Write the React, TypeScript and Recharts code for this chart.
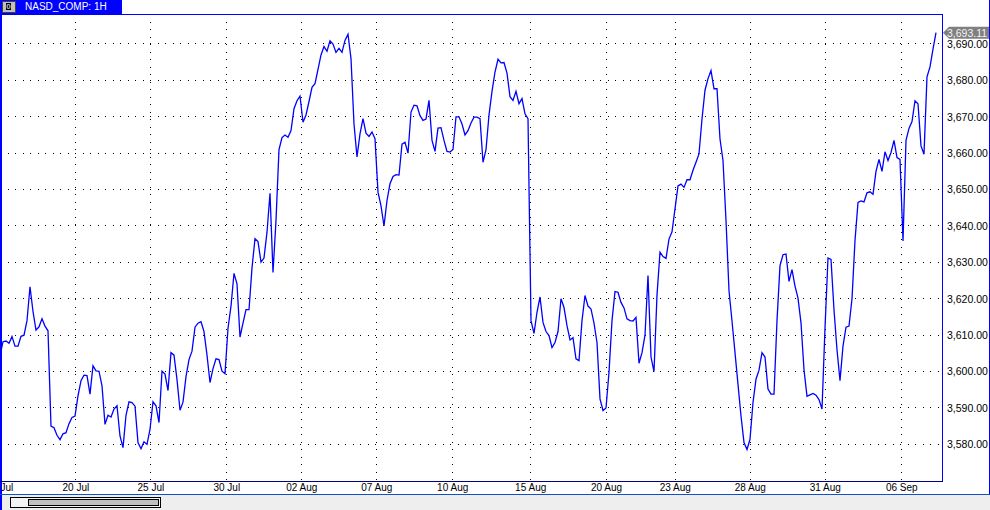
import React from 'react';
import { LineChart, Line, XAxis, YAxis, CartesianGrid, ReferenceLine } from 'recharts';

// hourly closes, one per bar
const closes = [
  3604.3, 3608.2, 3608.4, 3607.8, 3609.6, 3607.0, 3607.0, 3609.7, 3610.0, 3614.0,
  3623.3, 3616.5, 3611.4, 3612.3, 3614.5, 3612.5, 3611.2, 3585.0, 3584.6, 3582.5,
  3581.3, 3582.9, 3583.2, 3585.7, 3587.4, 3587.8, 3593.3, 3597.5, 3599.0, 3598.9,
  3593.8, 3601.6, 3600.2, 3600.1, 3596.1, 3585.5, 3588.0, 3587.5, 3589.7, 3590.6,
  3582.3, 3579.1, 3588.0, 3591.7, 3591.5, 3590.5, 3580.5, 3578.8, 3580.7, 3580.0,
  3584.1, 3591.7, 3590.6, 3586.0, 3600.1, 3599.3, 3594.8, 3605.2, 3604.5, 3597.8,
  3589.4, 3591.6, 3598.6, 3603.3, 3605.6, 3612.2, 3613.3, 3613.7, 3611.0, 3604.5,
  3597.0, 3600.8, 3603.5, 3603.3, 3600.1, 3599.4, 3611.9, 3618.0, 3627.0, 3624.1,
  3609.5, 3613.3, 3617.0, 3617.0, 3628.5, 3636.5, 3635.7, 3630.1, 3631.2, 3638.3,
  3649.0, 3627.2, 3641.5, 3661.0, 3664.3, 3665.0, 3664.4, 3666.2, 3672.2, 3674.4,
  3675.7, 3668.5, 3670.5, 3674.2, 3678.1, 3679.1, 3683.0, 3687.0, 3689.3, 3688.0,
  3690.9, 3690.0, 3687.7, 3688.8, 3687.7, 3691.0, 3692.7, 3686.0, 3668.0, 3659.0,
  3665.3, 3669.5, 3665.5, 3664.6, 3665.8, 3664.0, 3649.3, 3645.5, 3640.0, 3647.0,
  3651.6, 3653.6, 3654.1, 3654.0, 3662.5, 3663.0, 3660.0, 3671.3, 3673.2, 3673.0,
  3670.3, 3669.0, 3669.4, 3674.5, 3663.5, 3660.5, 3666.9, 3667.0, 3663.5, 3660.5,
  3660.3, 3661.0, 3670.0, 3670.0, 3668.0, 3665.0, 3666.2, 3668.3, 3669.9, 3669.9,
  3669.5, 3657.5, 3661.0, 3670.5, 3677.0, 3682.3, 3685.8, 3684.8, 3684.9, 3682.0,
  3675.5, 3674.5, 3677.0, 3673.6, 3675.0, 3670.8, 3669.5, 3614.0, 3610.5, 3616.3,
  3620.5, 3613.5, 3611.0, 3609.9, 3606.6, 3608.0, 3611.0, 3620.0, 3617.6, 3612.6,
  3608.7, 3609.3, 3603.5, 3603.0, 3614.0, 3620.9, 3618.0, 3617.2, 3613.3, 3608.0,
  3592.5, 3589.3, 3590.0, 3599.8, 3614.0, 3622.0, 3621.8, 3619.0, 3617.5, 3614.5,
  3614.0, 3613.9, 3614.9, 3602.3, 3605.2, 3610.0, 3626.4, 3604.0, 3600.0, 3621.0,
  3632.8, 3631.6, 3631.1, 3636.4, 3638.4, 3644.7, 3651.0, 3651.5, 3650.6, 3652.7,
  3652.7, 3655.3, 3657.5, 3659.8, 3669.4, 3677.3, 3680.5, 3682.7, 3677.7, 3677.7,
  3663.9, 3658.0, 3641.5, 3622.2, 3613.9, 3605.2, 3596.5, 3587.8, 3580.5, 3578.6,
  3581.4, 3591.5, 3597.9, 3600.4, 3605.2, 3604.0, 3595.2, 3593.8, 3593.8, 3614.0,
  3629.1, 3632.1, 3632.3, 3624.8, 3628.0, 3623.5, 3620.2, 3613.4, 3600.5, 3593.2,
  3593.6, 3594.0, 3593.5, 3592.3, 3589.7, 3612.0, 3631.2, 3630.8, 3617.0, 3606.0,
  3597.5, 3607.0, 3612.2, 3612.5, 3620.0, 3636.0, 3646.5, 3646.9, 3646.6, 3649.1,
  3649.4, 3648.7, 3655.0, 3658.3, 3655.0, 3660.4, 3658.0, 3660.2, 3663.5, 3658.8,
  3658.3, 3635.9, 3663.5, 3666.8, 3668.7, 3674.4, 3673.6, 3662.0, 3659.7, 3681.0,
  3683.7, 3688.6, 3693.11,
];

// session boundaries (bar positions) and their labels
const dateTicks = [0, 25.3, 50.3, 75.6, 100.6, 125.6, 150.9, 176.9, 202.2, 225.1, 250.1, 275.1, 300.6];
const dateLabels = ['17 Jul', '20 Jul', '25 Jul', '30 Jul', '02 Aug', '07 Aug', '10 Aug', '15 Aug', '20 Aug', '23 Aug', '28 Aug', '31 Aug', '06 Sep'];
const priceTicks = [3580, 3590, 3600, 3610, 3620, 3630, 3640, 3650, 3660, 3670, 3680, 3690];

const chartData = closes.map((close, i) => ({ bar: i, close }));
const lastClose = closes[closes.length - 1];

const FONT = '"Liberation Sans", Arial, sans-serif';
const BLUE = '#0000FF';

const fmtPrice = (v: number) =>
  v.toLocaleString('en-US', { minimumFractionDigits: 2, maximumFractionDigits: 2 });

const fmtDate = (v: number) => {
  const idx = dateTicks.indexOf(v);
  return idx >= 0 ? dateLabels[idx] : '';
};

// grey arrow tag with the last price, on the right axis
const LastPriceTag = (props: any) => {
  const { viewBox } = props;
  if (!viewBox) return null;
  const x = viewBox.x + viewBox.width + 1;
  const y = viewBox.y;
  const pts = `${x},${y} ${x + 6},${y - 6} ${x + 46},${y - 6} ${x + 46},${y + 6} ${x + 6},${y + 6}`;
  return (
    <g>
      <polygon points={pts} fill="#808080" />
      <text x={x + 4} y={y + 4} fill="#F4F4F4" fontSize={10.5} fontFamily={FONT}>
        {fmtPrice(lastClose)}
      </text>
    </g>
  );
};

const App: React.FC = () => {
  return (
    <div
      style={{
        position: 'absolute',
        left: 0,
        top: 0,
        width: 990,
        height: 510,
        background: '#FFFFFF',
        fontFamily: FONT,
        overflow: 'hidden',
      }}
    >
      <LineChart
        width={990}
        height={495}
        data={chartData}
        margin={{ top: 14, right: 0, bottom: 0, left: 0 }}
        style={{ position: 'absolute', left: 0, top: 0 }}
      >
        <CartesianGrid stroke="#000000" strokeWidth={1} strokeDasharray="1 6.5" shapeRendering="crispEdges" />
        <XAxis
          dataKey="bar"
          type="number"
          domain={[0, 314]}
          allowDataOverflow
          ticks={dateTicks}
          tickFormatter={fmtDate}
          interval={0}
          height={14}
          tickSize={0}
          tickMargin={3}
          axisLine={false}
          tickLine={false}
          tick={{ fill: '#000000', fontSize: 10, fontFamily: FONT }}
        />
        <YAxis
          orientation="right"
          width={48}
          domain={[3569.94, 3698.24]}
          allowDataOverflow
          ticks={priceTicks}
          tickFormatter={fmtPrice}
          interval={0}
          tickSize={0}
          tickMargin={5}
          axisLine={false}
          tickLine={false}
          tick={{ fill: '#000000', fontSize: 10.5, fontFamily: FONT }}
        />
        <Line
          type="linear"
          dataKey="close"
          stroke={BLUE}
          strokeWidth={1.3}
          dot={false}
          activeDot={false}
          isAnimationActive={false}
        />
        <ReferenceLine y={lastClose} stroke="none" label={LastPriceTag} />
      </LineChart>

      {/* plot frame */}
      <div style={{ position: 'absolute', left: 0, top: 14, width: 942, height: 1, background: BLUE }} />
      <div style={{ position: 'absolute', left: 0, top: 14, width: 2, height: 496, background: BLUE }} />
      <div style={{ position: 'absolute', left: 942, top: 14, width: 1, height: 467, background: BLUE }} />
      <div style={{ position: 'absolute', left: 0, top: 481, width: 943, height: 1, background: '#000080' }} />
      <div style={{ position: 'absolute', left: 989, top: 0, width: 1, height: 495, background: BLUE }} />

      {/* title tab */}
      <div
        style={{
          position: 'absolute',
          left: 0,
          top: 0,
          width: 122,
          height: 14,
          background: BLUE,
          color: '#FFFFFF',
          fontSize: 10,
          lineHeight: '14px',
        }}
      >
        <div
          style={{
            position: 'absolute',
            left: 2,
            top: 1,
            width: 12,
            height: 10,
            background: '#C0C0C0',
            border: '1px solid #404040',
          }}
        >
          <div
            style={{
              position: 'absolute',
              left: 3,
              top: 1,
              width: 5,
              height: 7,
              background: '#000000',
              color: '#C0C0C0',
              fontSize: 8,
              lineHeight: '7px',
              textAlign: 'center',
              fontWeight: 'bold',
            }}
          >
            0
          </div>
        </div>
        <span style={{ position: 'absolute', left: 25, top: 0, whiteSpace: 'nowrap' }}>NASD_COMP: 1H</span>
      </div>

      {/* scroll bar */}
      <div style={{ position: 'absolute', left: 0, top: 494, width: 990, height: 1, background: '#1050C8' }} />
      <div style={{ position: 'absolute', left: 2, top: 495, width: 988, height: 15, background: '#EEEEEE' }} />
      <div
        style={{
          position: 'absolute',
          left: 10,
          top: 497,
          width: 149,
          height: 9,
          background: '#F4F4F4',
          border: '1px solid #000000',
        }}
      />
      <div
        style={{
          position: 'absolute',
          left: 28,
          top: 499,
          width: 129,
          height: 5,
          background: '#C0C0C0',
          border: '1px solid #000000',
        }}
      />
    </div>
  );
};

export default App;
